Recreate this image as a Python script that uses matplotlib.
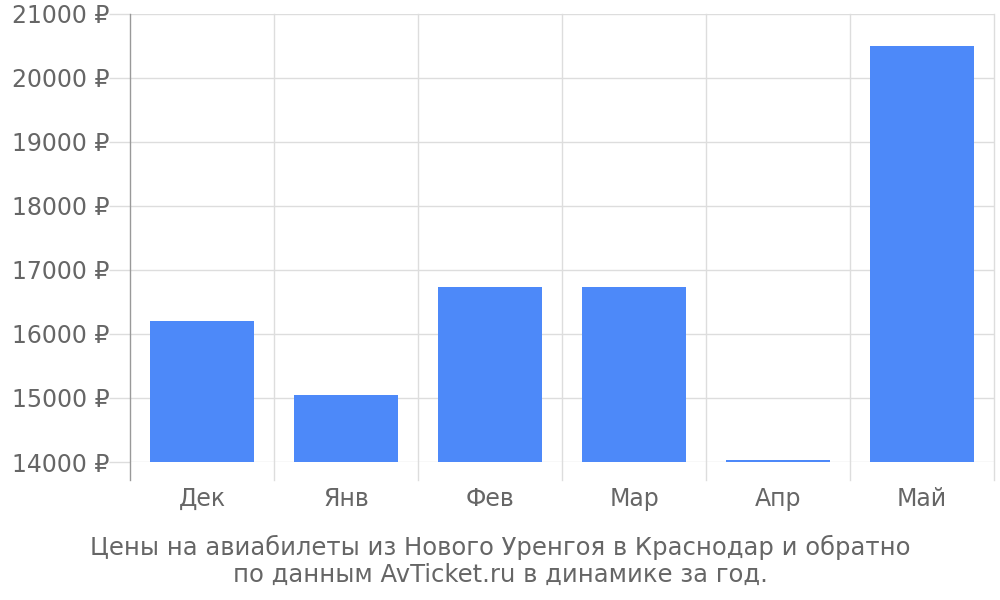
import matplotlib
matplotlib.use('Agg')
import matplotlib.pyplot as plt
import matplotlib.transforms as mtransforms

# --- Data ------------------------------------------------------------------
months = ['Дек', 'Янв', 'Фев', 'Мар', 'Апр', 'Май']
prices = [16200, 15050, 16735, 16735, 14030, 20500]
y_ticks = [14000, 15000, 16000, 17000, 18000, 19000, 20000, 21000]
caption = ('Цены на авиабилеты из Нового Уренгоя в Краснодар и обратно\n'
           'по данным AvTicket.ru в динамике за год.')

text_color = '#666666'
grid_color = '#dddddd'
bar_color = '#4d89f9'

fig = plt.figure(figsize=(10, 6), dpi=100)
ax = fig.add_axes([0.13, 0.23, 0.864, 0.7467])

x = list(range(len(months)))
ax.bar(x, prices, width=0.72, bottom=0, color=bar_color, zorder=3)
ax.set_xlim(-0.5, len(months) - 0.5)
ax.set_ylim(14000, 21000)

# horizontal gridlines with small tick stubs on the left
for v in y_ticks:
    ax.axhline(v, color=grid_color, linewidth=1, zorder=1)
ax.set_yticks(y_ticks)
ax.set_yticklabels([f'{v} ₽' for v in y_ticks])
ax.tick_params(axis='y', length=15, color=grid_color, width=1,
               labelsize=17, labelcolor=text_color, pad=0)

# vertical category gridlines that run below the axis
trans = mtransforms.blended_transform_factory(ax.transData, ax.transAxes)
bounds = [i - 0.5 for i in range(len(months) + 1)]
for b in bounds[1:]:
    ax.plot([b, b], [-18 / 448, 1], color=grid_color, linewidth=1,
            transform=trans, clip_on=False, zorder=1)
ax.plot([bounds[0], bounds[0]], [-18 / 448, 1], color='#999999',
        linewidth=1, transform=trans, clip_on=False, zorder=4)

ax.set_xticks(x)
ax.set_xticklabels(months)
ax.tick_params(axis='x', length=0, labelsize=17, labelcolor=text_color, pad=18)

for s in ax.spines.values():
    s.set_visible(False)

lines = caption.split('\n')
fig.text(0.5, 1 - 547 / 600, lines[0], ha='center', va='center',
         fontsize=17.5, color=text_color)
fig.text(0.5, 1 - 575 / 600, lines[1], ha='center', va='center',
         fontsize=17.5, color=text_color)

fig.savefig('out.png', dpi=100)
